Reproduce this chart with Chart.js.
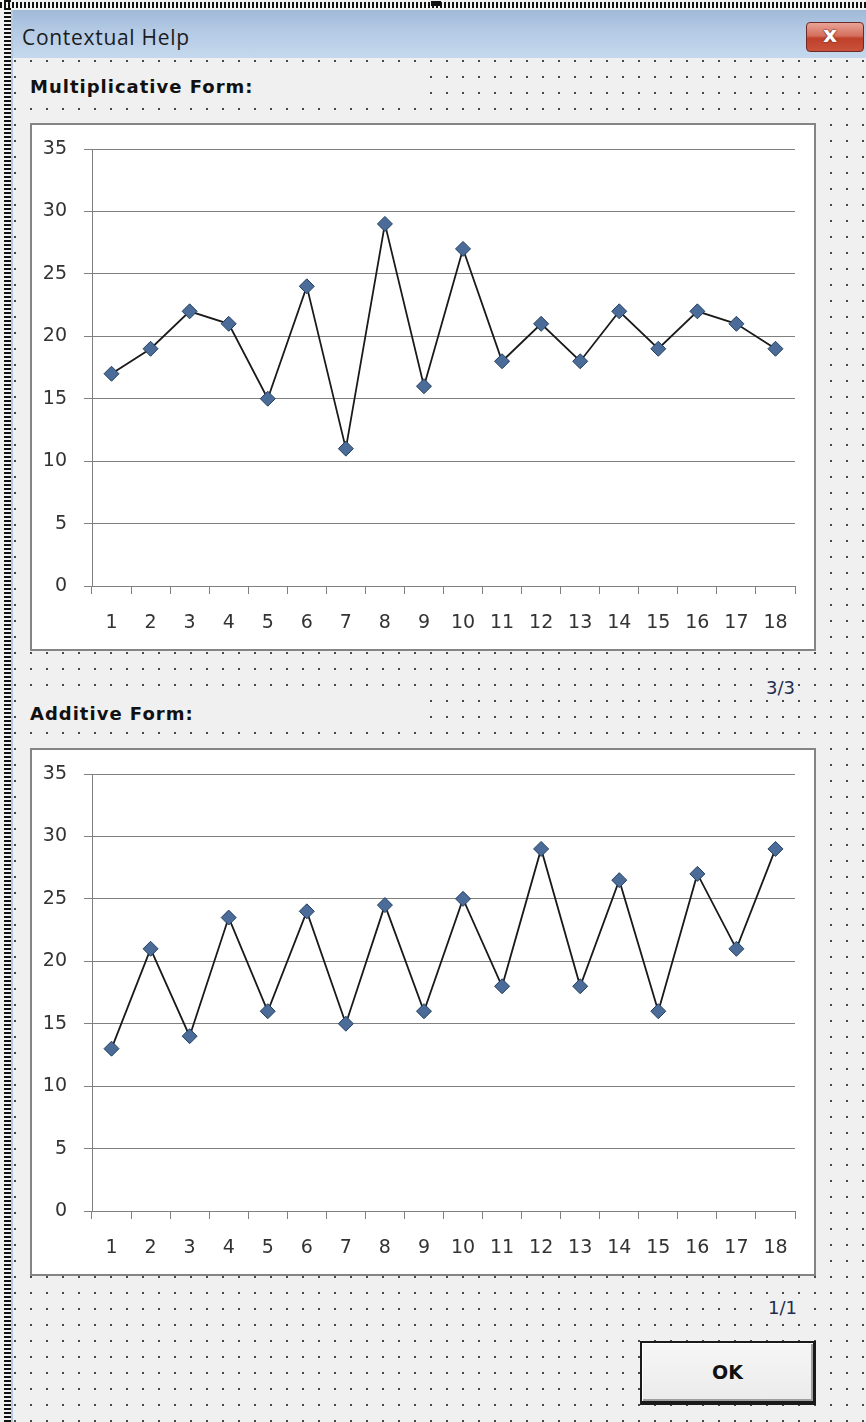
<!DOCTYPE html>
<html>
<head>
<meta charset="utf-8">
<title>Contextual Help</title>
<script src="https://cdn.jsdelivr.net/npm/chart.js@4.4.1/dist/chart.umd.min.js"></script>
<style>
  html, body { margin: 0; padding: 0; }
  body { width: 866px; height: 1422px; overflow: hidden; position: relative; background: #f0f0f0; font-family: "DejaVu Sans", sans-serif; }
  .abs { position: absolute; }
  /* design-time selection frame around the form */
  #hatchLeft { left: 4px; top: 0; width: 7px; height: 1422px;
    background: repeating-linear-gradient(180deg, #111 0 2px, #f4f4f4 2px 4px); }
  #hatchTop { left: 0; top: 2px; width: 866px; height: 6px;
    background: repeating-linear-gradient(90deg, #111 0 2px, #f4f4f4 2px 4px); }
  #handle { left: 431px; top: 1px; width: 10px; height: 5px; background: #111; }
  #frameEdge { left: 11px; top: 10px; width: 2px; height: 1412px; background: #b3c9e2; }
  #titleBar { left: 13px; top: 10px; width: 853px; height: 48px;
    background: linear-gradient(180deg, #9fb9d8 0%, #b5cbe5 45%, #c5d8ed 100%); }
  #titleText { left: 22px; top: 20px; font-family: "Open Sans", sans-serif; font-size: 21px; letter-spacing: 0.7px; color: #1b1b1b; line-height: 34px; }
  #closeBtn { left: 806px; top: 22px; width: 58px; height: 30px; border: 1px solid #6e2a24; border-radius: 4px;
    background: linear-gradient(180deg, #e9a397 0%, #d4705f 45%, #c0412b 55%, #c9513a 100%);
    box-sizing: border-box; }
  #closeBtn span { position: absolute; left: 16px; top: -1px; font-family: "DejaVu Sans", sans-serif; font-weight: bold; font-size: 22px; color: #fff; text-shadow: 0 0 2px #6b2016, 0 0 1px #6b2016; }
  #body { left: 13px; top: 58px; width: 853px; height: 1364px; background-color: #f0f0f0;
    background-image: url("data:image/svg+xml;utf8,<svg xmlns='http://www.w3.org/2000/svg' width='16' height='16'><rect x='0' y='0' width='2' height='2' fill='%23484848'/></svg>");
    background-position: 1px 2px; }
  .caption { background: #f0f0f0; font-family: "DejaVu Sans", sans-serif; font-weight: bold; font-size: 18px; letter-spacing: 1px; color: #111; line-height: 35px; padding-left: 12px; }
  .frame { left: 30px; width: 786px; height: 528px; border: 2px solid #848484; box-sizing: border-box; background: #fff; }
  .frame canvas { display: block; }
  .pager { background: #f0f0f0; font-family: "DejaVu Sans", sans-serif; font-size: 18px; color: #1e2d4d; line-height: 20px; padding: 0 3px; }
  #okBtn { left: 640px; top: 1341px; width: 176px; height: 64px; box-sizing: border-box;
    border: 2px solid #1a1a1a; border-right-width: 3px; border-bottom-width: 4px;
    background: linear-gradient(180deg, #f6f6f6 0%, #ebebeb 100%);
    box-shadow: inset 1px 1px 0 #fff, inset -2px -2px 0 #a0a0a0;
    font-family: "DejaVu Sans", sans-serif; font-weight: bold; font-size: 19px; color: #111;
    display: flex; align-items: center; justify-content: center; }
</style>
</head>
<body>
<div id="body" class="abs"></div>
<div id="hatchLeft" class="abs"></div>
<div id="hatchTop" class="abs"></div>
<div id="handle" class="abs"></div>
<div id="frameEdge" class="abs"></div>
<div id="titleBar" class="abs"></div>
<div id="titleText" class="abs">Contextual Help</div>
<div id="closeBtn" class="abs"><span>x</span></div>

<div class="abs caption" style="left:18px; top:69px; width:395px; height:35px;">Multiplicative Form:</div>
<div class="abs frame" style="top:123px;"><canvas id="multChart" width="782" height="524"></canvas></div>
<div class="abs pager" style="left:763px; top:678px;">3/3</div>

<div class="abs caption" style="left:18px; top:696px; width:395px; height:35px;">Additive Form:</div>
<div class="abs frame" style="top:748px;"><canvas id="addChart" width="782" height="524"></canvas></div>
<div class="abs pager" style="left:765px; top:1298px;">1/1</div>

<div id="okBtn" class="abs">OK</div>

<script>
// Periods 1..18 along the category axis
const categories = ['1','2','3','4','5','6','7','8','9','10','11','12','13','14','15','16','17','18'];

// Seasonal series, multiplicative form
const multiplicativeValues = [17, 19, 22, 21, 15, 24, 11, 29, 16, 27, 18, 21, 18, 22, 19, 22, 21, 19];

// Seasonal series, additive form
const additiveValues = [13, 21, 14, 23.5, 16, 24, 15, 24.5, 16, 25, 18, 29, 18, 26.5, 16, 27, 21, 29];

// Value axis
const yMin = 0;
const yMax = 35;
const yStep = 5;

const axisGrey = '#808080';
const tickFont = { family: 'DejaVu Sans', size: 19 };

function makeChart(canvasId, values) {
  return new Chart(document.getElementById(canvasId), {
    type: 'line',
    data: {
      labels: categories,
      datasets: [{
        data: values,
        borderColor: '#1a1a1a',
        borderWidth: 1.8,
        tension: 0,
        fill: false,
        pointStyle: 'rectRot',
        pointRadius: 7.5,
        pointBackgroundColor: '#4b6b98',
        pointBorderColor: '#24405f',
        pointBorderWidth: 1
      }]
    },
    options: {
      responsive: false,
      animation: false,
      events: [],
      layout: { padding: { left: 0, top: 24, right: 19, bottom: 0 } },
      plugins: { legend: { display: false }, tooltip: { enabled: false } },
      scales: {
        x: {
          type: 'category',
          offset: true,
          grid: { offset: true, drawOnChartArea: false, drawTicks: true, tickLength: 8, color: axisGrey, lineWidth: 1 },
          border: { color: axisGrey, width: 1 },
          ticks: { color: '#333333', font: tickFont, padding: 18, maxRotation: 0, autoSkip: false },
          afterFit(scale) { scale.height = 63; scale.paddingLeft = 0; scale.paddingRight = 0; }
        },
        y: {
          min: yMin,
          max: yMax,
          grid: { color: axisGrey, lineWidth: 1, drawTicks: true, tickLength: 8 },
          border: { color: axisGrey, width: 1 },
          ticks: { stepSize: yStep, color: '#333333', font: tickFont, padding: 17 },
          afterFit(scale) { scale.width = 60; scale.paddingTop = 0; scale.paddingBottom = 0; }
        }
      }
    }
  });
}

makeChart('multChart', multiplicativeValues);
makeChart('addChart', additiveValues);
</script>
</body>
</html>
